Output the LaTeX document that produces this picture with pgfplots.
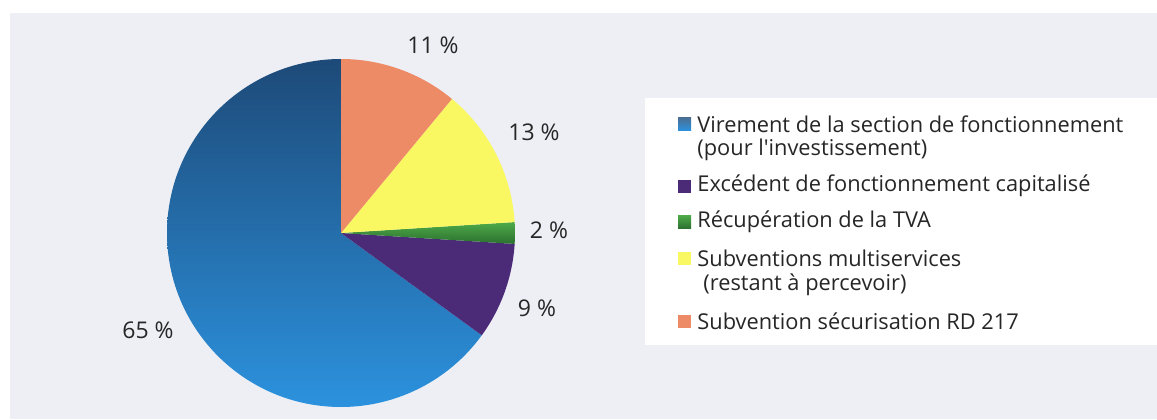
\documentclass[border=0pt]{standalone}
\usepackage{fontspec}
\setmainfont{Open Sans}[Ligatures=TeXOff]
\usepackage{pgfplots}
\pgfplotsset{compat=1.18}

\definecolor{bgpanel}{HTML}{EDEFF5}
\definecolor{bluetop}{HTML}{1D4A78}
\definecolor{bluebot}{HTML}{2C92DE}
\definecolor{purp}{HTML}{4B2A78}
\definecolor{greenA}{HTML}{4DAA48}
\definecolor{greenB}{HTML}{2C7030}
\definecolor{yell}{HTML}{F9F862}
\definecolor{oran}{HTML}{EE8B67}

% one pie slice: #1 start (%), #2 share (%), #3 fill options
\newcommand{\slice}[3]{%
  \path[#3] (axis cs:341,186) -- ++({90+3.6*#1}:87pt)
    arc[start angle={90+3.6*#1}, end angle={90+3.6*(#1+#2)}, radius=87pt] -- cycle;}
% legend key at image row #1
\newcommand{\key}[2]{%
  \fill[#2] (axis cs:678,{419-#1-6.5}) rectangle (axis cs:691,{419-#1+6.5});}

\begin{document}
\begin{tikzpicture}
\begin{axis}[
    width=578.5pt, height=209.5pt,
    scale only axis,
    xmin=0, xmax=1157, ymin=0, ymax=419,
    hide axis, clip=false,
]
\fill[white] (axis cs:0,0) rectangle (axis cs:1157,419);
\fill[bgpanel] (axis cs:10,0) rectangle (axis cs:1157,406);
\fill[white] (axis cs:645,74) rectangle (axis cs:1157,321);

\slice{0}{65}{shade, top color=bluetop, bottom color=bluebot}
\slice{65}{9}{fill=purp}
\slice{74}{2}{shade, top color=greenA, bottom color=greenB}
\slice{76}{13}{fill=yell}
\slice{89}{11}{fill=oran}

\begin{scope}[font=\fontsize{11.5}{14}\selectfont, text=black!85]
\node at (axis cs:433,374) {11 \%};
\node at (axis cs:534,287) {13 \%};
\node at (axis cs:549,189) {2 \%};
\node at (axis cs:537,111) {9 \%};
\node at (axis cs:148,89) {65 \%};
\end{scope}

\key{124}{shade, top color=bluetop!80, bottom color=bluebot}
\key{186}{purp}
\key{222}{shade, top color=greenA, bottom color=greenB}
\key{258}{yell}
\key{321}{oran}

\begin{scope}[font=\fontsize{10.9}{13}\selectfont, text=black!85, anchor=west, inner sep=0pt]
\node at (axis cs:697,{419-124}) {Virement de la section de fonctionnement};
\node at (axis cs:697,{419-150}) {(pour l'investissement)};
\node at (axis cs:697,{419-186}) {Excédent de fonctionnement capitalisé};
\node at (axis cs:697,{419-222}) {Récupération de la TVA};
\node at (axis cs:697,{419-258}) {Subventions multiservices};
\node at (axis cs:703,{419-285}) {(restant à percevoir)};
\node at (axis cs:697,{419-321}) {Subvention sécurisation RD 217};
\end{scope}
\end{axis}
\end{tikzpicture}
\end{document}
